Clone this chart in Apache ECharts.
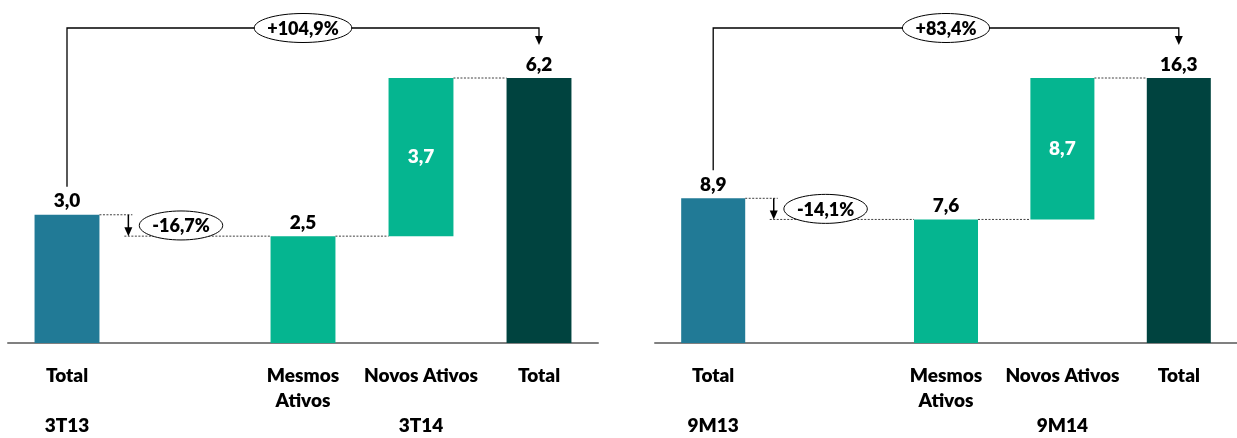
<!DOCTYPE html>
<html>
<head>
<meta charset="utf-8">
<script src="https://cdn.jsdelivr.net/npm/echarts@6/dist/echarts.min.js"></script>
<style>
  html, body { margin: 0; padding: 0; background: #fff; }
  #chart { width: 1237px; height: 438px; }
</style>
</head>
<body>
<div id="chart"></div>
<script>
// Category labels shared by both panels (slot 1 holds the change marker)
const categories = ['Total', '', 'Mesmos\nAtivos', 'Novos Ativos', 'Total'];
// Period labels printed under the category names, index-aligned with categories
const periodsQ = ['3T13', '', '', '3T14', ''];
const periodsM = ['9M13', '', '', '9M14', ''];

// Quarter: start total, same assets, new assets, end total
const quarterValues = [3.0, 2.5, 3.7, 6.2];
const quarterChanges = ['-16,7%', '+104,9%'];

// Nine months: start total, same assets, new assets, end total
const ytdValues = [8.9, 7.6, 8.7, 16.3];
const ytdChanges = ['-14,1%', '+83,4%'];

const FONT = 'Lato, "Open Sans", sans-serif';
const WEIGHT = 800;
const C_START = '#217A96';
const C_GREEN = '#05B590';
const C_END = '#00433F';

const measureCtx = document.createElement('canvas').getContext('2d');
function textWidth(t, size) {
  measureCtx.font = WEIGHT + ' ' + size + 'px ' + FONT;
  return measureCtx.measureText(t).width;
}
const fmt = v => v.toFixed(1).replace('.', ',');

function ovalLabel(cx, cy, text) {
  const rx = textWidth(text, 18) / 2 + 13;
  return [
    { type: 'ellipse', shape: { cx: cx, cy: cy, rx: rx, ry: 14.5 },
      style: { fill: '#fff', stroke: '#000', lineWidth: 1 } },
    { type: 'text', x: cx, y: cy + 1,
      style: { text: text, align: 'center', verticalAlign: 'middle',
               font: WEIGHT + ' 18px ' + FONT, fill: '#000' } }
  ];
}

// Connectors, drop arrow and change ovals drawn on top of the bars
function overlay(vals, changes) {
  return function (params, api) {
    const s = vals[0], m = vals[1], n = vals[2], t = vals[3];
    const slot = api.size([1, 0])[0];
    const hw = slot * 0.55 / 2;
    const p0 = api.coord([0, s]);
    const x1 = api.coord([1, 0])[0];
    const p2 = api.coord([2, m]);
    const p3 = api.coord([3, m + n]);
    const p4 = api.coord([4, t]);
    const ax = p0[0] + slot * 0.52;
    const dot = { stroke: '#404040', lineWidth: 1, lineDash: [2, 1.5] };
    const solid = { stroke: '#000', lineWidth: 1.3, fill: null };
    const topY = p4[1] - 50;
    const children = [
      { type: 'line', shape: { x1: p0[0] + hw, y1: p0[1], x2: ax + 4, y2: p0[1] }, style: dot },
      { type: 'line', shape: { x1: ax - 4, y1: p2[1], x2: p2[0] - hw, y2: p2[1] }, style: dot },
      { type: 'line', shape: { x1: p2[0] + hw, y1: p2[1], x2: p3[0] - hw, y2: p2[1] }, style: dot },
      { type: 'line', shape: { x1: p3[0] + hw, y1: p3[1], x2: p4[0] - hw, y2: p4[1] }, style: dot },
      { type: 'line', shape: { x1: ax, y1: p0[1], x2: ax, y2: p2[1] - 8 },
        style: { stroke: '#000', lineWidth: 1.5 } },
      { type: 'polygon', shape: { points: [[ax - 4, p2[1] - 9], [ax + 4, p2[1] - 9], [ax, p2[1]]] },
        style: { fill: '#000' } },
      { type: 'polyline', shape: { points: [[p0[0], p0[1] - 28], [p0[0], topY], [p4[0], topY], [p4[0], p4[1] - 41]] },
        style: solid },
      { type: 'polygon', shape: { points: [[p4[0] - 4, p4[1] - 42], [p4[0] + 4, p4[1] - 42], [p4[0], p4[1] - 33]] },
        style: { fill: '#000' } }
    ];
    return {
      type: 'group',
      children: children
        .concat(ovalLabel(x1 - 4, (p0[1] + p2[1]) / 2, changes[0]))
        .concat(ovalLabel((p0[0] + p4[0]) / 2, topY, changes[1]))
    };
  };
}

function panelSeries(idx, vals, changes) {
  const topLabel = { show: true, position: 'top', distance: 4, color: '#000',
                     fontFamily: FONT, fontWeight: WEIGHT, fontSize: 19,
                     formatter: p => fmt(p.value) };
  return [
    { type: 'bar', stack: 'w' + idx, xAxisIndex: idx, yAxisIndex: idx, silent: true,
      barWidth: '55%', itemStyle: { color: 'transparent' },
      data: [0, '-', 0, vals[1], 0] },
    { type: 'bar', stack: 'w' + idx, xAxisIndex: idx, yAxisIndex: idx, silent: true,
      barWidth: '55%', label: topLabel,
      data: [
        { value: vals[0], itemStyle: { color: C_START } },
        '-',
        { value: vals[1], itemStyle: { color: C_GREEN } },
        { value: vals[2], itemStyle: { color: C_GREEN },
          label: { position: 'inside', color: '#fff' } },
        { value: vals[3], itemStyle: { color: C_END } }
      ] },
    { type: 'custom', xAxisIndex: idx, yAxisIndex: idx, silent: true, z: 5,
      data: [[0, 0]], renderItem: overlay(vals, changes) }
  ];
}

function xAxis(idx, periods) {
  return {
    type: 'category', gridIndex: idx, data: categories,
    axisTick: { show: false },
    axisLine: { lineStyle: { color: '#808080', width: 2 } },
    axisLabel: {
      interval: 0, margin: 20, color: '#000', fontFamily: FONT,
      fontWeight: WEIGHT, fontSize: 19, lineHeight: 25, verticalAlign: 'top',
      formatter: (v, i) => periods[i] ? v + '\n\n' + periods[i] : v
    }
  };
}

const chart = echarts.init(document.getElementById('chart'));
chart.setOption({
  animation: false,
  backgroundColor: '#fff',
  grid: [
    { left: 8, width: 590, top: 78, bottom: 90 },
    { left: 655, width: 590, top: 78, bottom: 90 }
  ],
  xAxis: [xAxis(0, periodsQ), xAxis(1, periodsM)],
  yAxis: [
    { type: 'value', gridIndex: 0, min: 0, max: quarterValues[3], show: false },
    { type: 'value', gridIndex: 1, min: 0, max: ytdValues[3], show: false }
  ],
  series: panelSeries(0, quarterValues, quarterChanges)
    .concat(panelSeries(1, ytdValues, ytdChanges))
});
</script>
</body>
</html>
